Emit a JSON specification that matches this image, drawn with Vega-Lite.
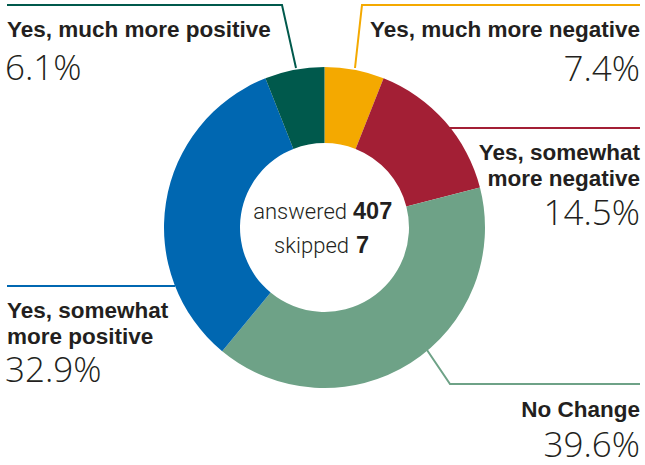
{
  "$schema": "https://vega.github.io/schema/vega-lite/v6.json",
  "width": 641,
  "height": 455,
  "padding": {"left": 4, "top": 0, "right": 0, "bottom": 10},
  "autosize": {"type": "none"},
  "background": "white",
  "config": {"view": {"stroke": null}},
  "datasets": {
    "slices": [
      {"cat": "Yes, much more negative", "order": 1, "value": 6.0},
      {"cat": "Yes, somewhat more negative", "order": 2, "value": 15.0},
      {"cat": "No Change", "order": 3, "value": 40.0},
      {"cat": "Yes, somewhat more positive", "order": 4, "value": 33.0},
      {"cat": "Yes, much more positive", "order": 5, "value": 6.0}
    ],
    "leaders": [
      {"cat": "Yes, much more positive", "i": 1, "x": 7, "y": 5},
      {"cat": "Yes, much more positive", "i": 2, "x": 282, "y": 5},
      {"cat": "Yes, much more positive", "i": 3, "x": 296, "y": 68},
      {"cat": "Yes, much more negative", "i": 1, "x": 355, "y": 68},
      {"cat": "Yes, much more negative", "i": 2, "x": 362, "y": 5},
      {"cat": "Yes, much more negative", "i": 3, "x": 640, "y": 5},
      {"cat": "Yes, somewhat more negative", "i": 1, "x": 448, "y": 128},
      {"cat": "Yes, somewhat more negative", "i": 2, "x": 640, "y": 128},
      {"cat": "Yes, somewhat more positive", "i": 1, "x": 7, "y": 286},
      {"cat": "Yes, somewhat more positive", "i": 2, "x": 175, "y": 286},
      {"cat": "No Change", "i": 1, "x": 427, "y": 350},
      {"cat": "No Change", "i": 2, "x": 450, "y": 384},
      {"cat": "No Change", "i": 3, "x": 640, "y": 384}
    ],
    "labels": [
      {"text": "Yes, much more positive", "x": 7, "y": 37, "kind": "name", "side": "left"},
      {"text": "6.1%", "x": 5, "y": 80, "kind": "pct", "side": "left"},
      {"text": "Yes, much more negative", "x": 640, "y": 37, "kind": "name", "side": "right"},
      {"text": "7.4%", "x": 640, "y": 81, "kind": "pct", "side": "right"},
      {"text": "Yes, somewhat", "x": 640, "y": 160, "kind": "name", "side": "right"},
      {"text": "more negative", "x": 640, "y": 186, "kind": "name", "side": "right"},
      {"text": "14.5%", "x": 640, "y": 225, "kind": "pct", "side": "right"},
      {"text": "Yes, somewhat", "x": 7, "y": 318, "kind": "name", "side": "left"},
      {"text": "more positive", "x": 7, "y": 344, "kind": "name", "side": "left"},
      {"text": "32.9%", "x": 5, "y": 382, "kind": "pct", "side": "left"},
      {"text": "No Change", "x": 640, "y": 417, "kind": "name", "side": "right"},
      {"text": "39.6%", "x": 640, "y": 457, "kind": "pct", "side": "right"},
      {"text": "answered", "x": 347, "y": 219, "kind": "center", "side": "right"},
      {"text": "407", "x": 353, "y": 219, "kind": "centerbold", "side": "left"},
      {"text": "skipped", "x": 349, "y": 253, "kind": "center", "side": "right"},
      {"text": "7", "x": 356, "y": 253, "kind": "centerbold", "side": "left"}
    ]
  },
  "layer": [
    {
      "data": {"name": "slices"},
      "mark": {"type": "arc", "outerRadius": 160.5, "innerRadius": 84.5},
      "encoding": {
        "theta": {"field": "value", "type": "quantitative", "stack": true},
        "order": {"field": "order", "type": "quantitative"},
        "color": {
          "field": "cat", "type": "nominal", "legend": null,
          "scale": {
            "domain": ["Yes, much more negative", "Yes, somewhat more negative", "No Change", "Yes, somewhat more positive", "Yes, much more positive"],
            "range": ["#F4A900", "#A31F35", "#6EA287", "#0067B1", "#00594C"]
          }
        }
      }
    },
    {
      "data": {"name": "leaders"},
      "mark": {"type": "line", "strokeWidth": 2},
      "encoding": {
        "x": {"field": "x", "type": "quantitative", "axis": null, "scale": {"domain": [4, 645], "nice": false, "zero": false}},
        "y": {"field": "y", "type": "quantitative", "axis": null, "scale": {"domain": [0, 455], "nice": false, "zero": false, "reverse": true}},
        "order": {"field": "i", "type": "quantitative"},
        "color": {"field": "cat", "type": "nominal", "legend": null}
      }
    },
    {
      "data": {"name": "labels"},
      "transform": [{"filter": "datum.kind === 'name' && datum.side === 'left'"}],
      "mark": {"type": "text", "align": "left", "baseline": "alphabetic", "font": "Liberation Sans", "fontWeight": "bold", "fontSize": 22.5, "color": "#231F20"},
      "encoding": {
        "x": {"field": "x", "type": "quantitative"},
        "y": {"field": "y", "type": "quantitative"},
        "text": {"field": "text"}
      }
    },
    {
      "data": {"name": "labels"},
      "transform": [{"filter": "datum.kind === 'name' && datum.side === 'right'"}],
      "mark": {"type": "text", "align": "right", "baseline": "alphabetic", "font": "Liberation Sans", "fontWeight": "bold", "fontSize": 22.5, "color": "#231F20"},
      "encoding": {
        "x": {"field": "x", "type": "quantitative"},
        "y": {"field": "y", "type": "quantitative"},
        "text": {"field": "text"}
      }
    },
    {
      "data": {"name": "labels"},
      "transform": [{"filter": "datum.kind === 'pct' && datum.side === 'left'"}],
      "mark": {"type": "text", "align": "left", "baseline": "alphabetic", "font": "Open Sans", "fontWeight": 300, "fontSize": 35, "color": "#231F20"},
      "encoding": {
        "x": {"field": "x", "type": "quantitative"},
        "y": {"field": "y", "type": "quantitative"},
        "text": {"field": "text"}
      }
    },
    {
      "data": {"name": "labels"},
      "transform": [{"filter": "datum.kind === 'pct' && datum.side === 'right'"}],
      "mark": {"type": "text", "align": "right", "baseline": "alphabetic", "font": "Open Sans", "fontWeight": 300, "fontSize": 35, "color": "#231F20"},
      "encoding": {
        "x": {"field": "x", "type": "quantitative"},
        "y": {"field": "y", "type": "quantitative"},
        "text": {"field": "text"}
      }
    },
    {
      "data": {"name": "labels"},
      "transform": [{"filter": "datum.kind === 'center'"}],
      "mark": {"type": "text", "align": "right", "baseline": "alphabetic", "font": "Roboto", "fontWeight": 300, "fontSize": 22, "color": "#231F20"},
      "encoding": {
        "x": {"field": "x", "type": "quantitative"},
        "y": {"field": "y", "type": "quantitative"},
        "text": {"field": "text"}
      }
    },
    {
      "data": {"name": "labels"},
      "transform": [{"filter": "datum.kind === 'centerbold'"}],
      "mark": {"type": "text", "align": "left", "baseline": "alphabetic", "font": "Liberation Sans", "fontWeight": "bold", "fontSize": 23.5, "color": "#231F20"},
      "encoding": {
        "x": {"field": "x", "type": "quantitative"},
        "y": {"field": "y", "type": "quantitative"},
        "text": {"field": "text"}
      }
    }
  ]
}
